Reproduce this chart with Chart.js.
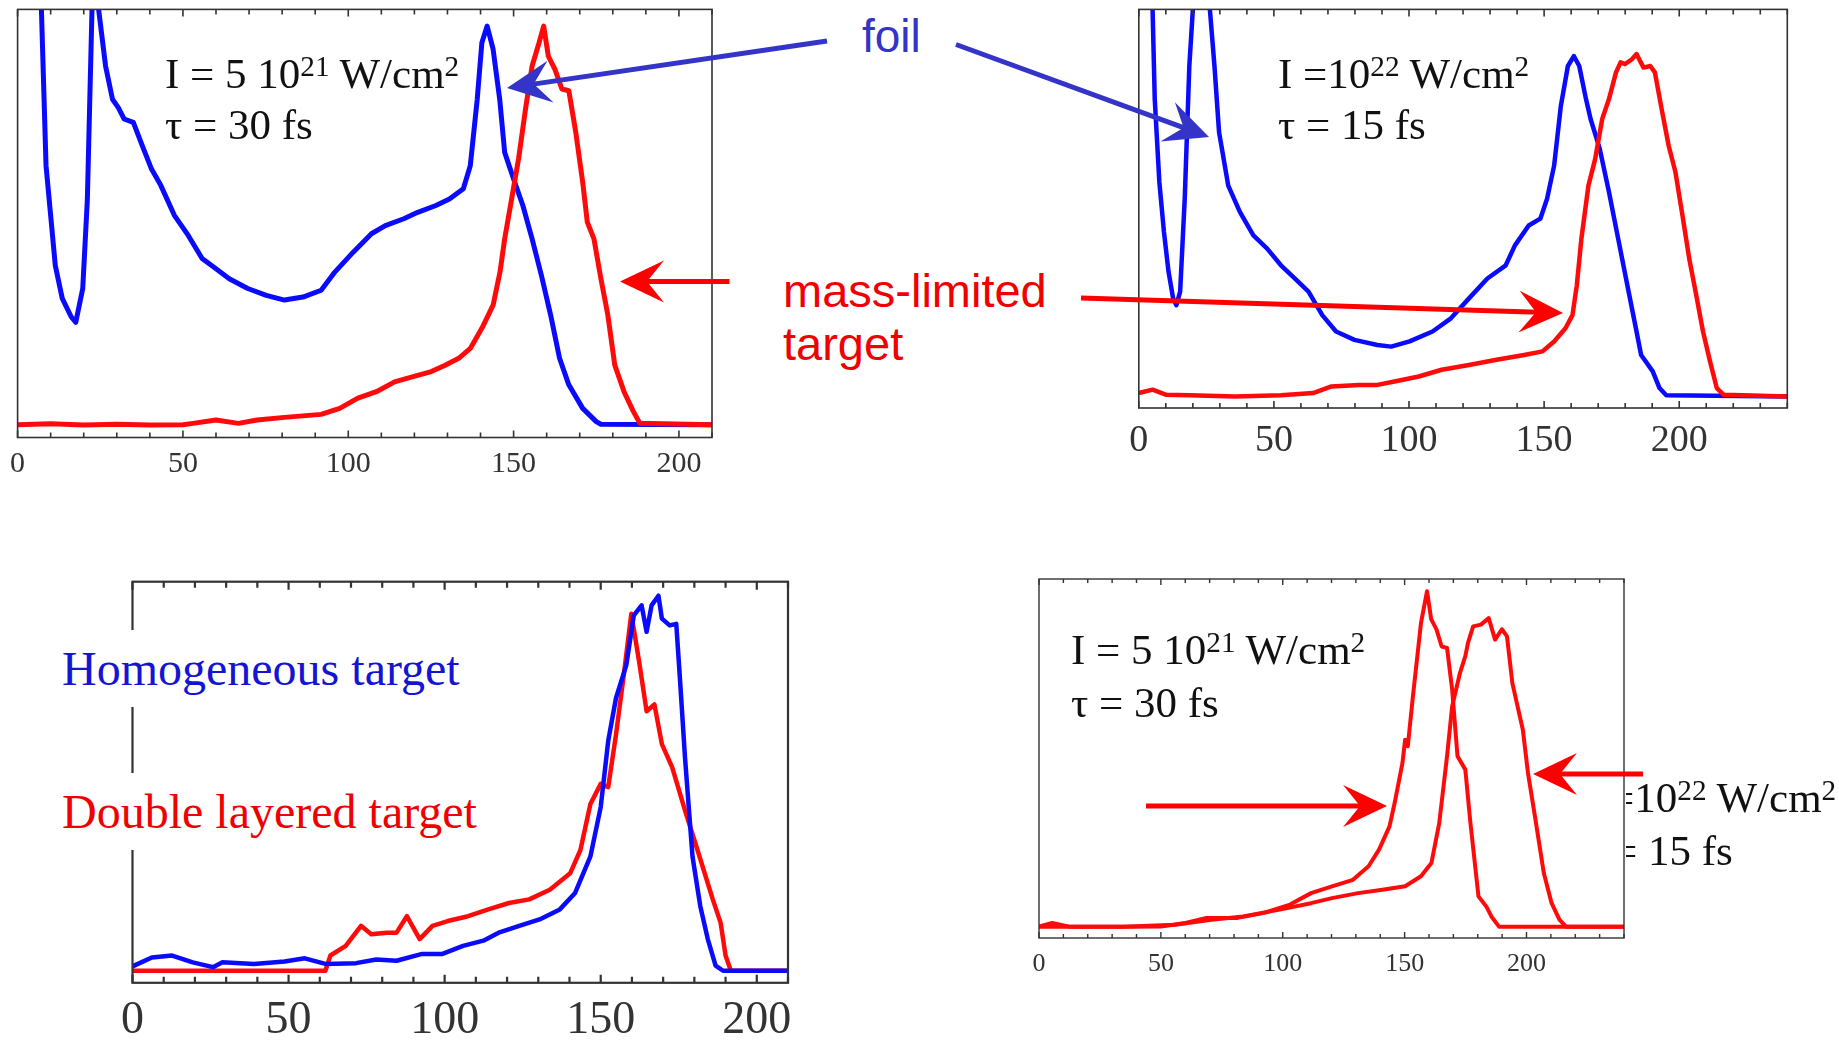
<!DOCTYPE html>
<html>
<head>
<meta charset="utf-8">
<script src="https://cdn.jsdelivr.net/npm/chart.js@4.4.1/dist/chart.umd.min.js"></script>
<style>
  body { margin: 0; width: 1839px; height: 1040px; background: #fff; position: relative; overflow: hidden; }
  canvas.panel { position: absolute; }
  #overlay { position: absolute; left: 0; top: 0; pointer-events: none; z-index: 5; }
  .t { position: absolute; font-family: "Liberation Serif", "Times New Roman", serif; white-space: nowrap; color: #111; line-height: 1; z-index: 4; }
  .t sup { font-size: 0.68em; position: relative; top: -0.42em; vertical-align: baseline; line-height: 0; }
  .sans { font-family: "Liberation Sans", Arial, sans-serif; }
  .lbl { background: #fff; line-height: 77px; height: 77px; font-size: 48px; }
  #cut { position: absolute; left: 1626px; top: 760px; width: 213px; height: 130px; overflow: hidden; z-index: 4; }
</style>
</head>
<body>
<canvas id="c1" class="panel" width="760" height="500" style="left:0;top:0"></canvas>
<canvas id="c2" class="panel" width="739" height="480" style="left:1100px;top:0"></canvas>
<canvas id="c3" class="panel" width="740" height="480" style="left:90px;top:560px"></canvas>
<canvas id="c4" class="panel" width="660" height="440" style="left:1000px;top:560px"></canvas>
<canvas id="overlay" width="1839" height="1040"></canvas>

<!-- texts -->
<div class="t" style="left:165px;top:52px;font-size:43px">I = 5 10<sup>21</sup> W/cm<sup>2</sup></div>
<div class="t" style="left:165px;top:103px;font-size:43px">τ = 30 fs</div>
<div class="t" style="left:1278px;top:52px;font-size:43px">I =10<sup>22</sup> W/cm<sup>2</sup></div>
<div class="t" style="left:1278px;top:103px;font-size:43px">τ = 15 fs</div>
<div class="t" style="left:1071px;top:628px;font-size:43px">I = 5 10<sup>21</sup> W/cm<sup>2</sup></div>
<div class="t" style="left:1071px;top:681px;font-size:43px">τ = 30 fs</div>
<div id="cut">
  <div class="t" style="left:-41px;top:16px;font-size:43px">I =10<sup>22</sup> W/cm<sup>2</sup></div>
  <div class="t" style="left:-41px;top:69px;font-size:43px">τ = 15 fs</div>
</div>
<div class="t lbl" style="left:62px;top:630px;color:#1414d4;padding-right:4px">Homogeneous target</div>
<div class="t lbl" style="left:62px;top:773px;color:#f00000;padding-right:4px">Double layered target</div>
<div class="t sans" style="left:862px;top:13px;font-size:46px;color:#3434c8">foil</div>
<div class="t sans" style="left:783px;top:267px;font-size:47px;color:#f00000">mass-limited</div>
<div class="t sans" style="left:783px;top:320px;font-size:47px;color:#f00000">target</div>

<script>
// x = distance, y = signal (arbitrary units, 0..100 of the frame height)
// top left: I = 5e21 W/cm2, 30 fs
const foil30fs = [[6,125],[7.2,100],[8.6,63.5],[11.4,40.2],[13.5,32.5],[16.2,28.2],[17.6,26.9],[19.7,34.8],[21.1,55.7],[22.5,100],[23.5,130],[24.5,100],[26.6,86.8],[28.7,79],[30.5,77],[32.2,74.4],[35,73.6],[37.7,68.2],[40.5,62.7],[43.3,58.9],[47.4,51.9],[51.6,47.2],[55.8,41.8],[60,39.4],[64,37.1],[69.6,34.8],[75.2,33.2],[80.7,32.1],[86.3,32.8],[91.8,34.4],[96,38.7],[101.5,43.3],[107,47.6],[111.2,49.5],[116.8,51.1],[121,52.6],[126.5,54.2],[130.6,55.7],[134.8,58.1],[136.9,63.5],[139,79],[140.4,92.2],[142,96.1],[143.8,90.7],[145.8,79],[147.3,66.6],[150,60.4],[152.8,54.2],[155.6,46.4],[158.4,37.9],[161.2,28.6],[163.9,18.5],[166.7,12.3],[170.9,6.8],[175,3.7],[176.4,3.1],[210,3.0]];
const mlt30fs = [[0,3.0],[10,3.2],[20,2.9],[30,3.1],[40,2.9],[50,3.0],[53,3.3],[60,4.1],[66.8,3.3],[72.4,4.1],[80.7,4.7],[91.8,5.4],[97.4,6.8],[102.9,9.2],[108.5,10.7],[114,13],[119.6,14.2],[125.1,15.4],[129.3,16.9],[133.4,18.5],[136.9,20.8],[140.4,25.5],[143.8,30.9],[145.9,38.7],[147.3,46.4],[149.4,55.7],[151.5,65.1],[153.6,76.7],[155.6,86.8],[157.7,92.2],[159.1,96.1],[160.5,89.1],[162.5,86],[164.6,81.4],[166.7,81],[168.8,71.3],[170.9,59.6],[172.3,50.3],[174.3,46.4],[176.4,37.1],[178.5,28.6],[180.6,16.9],[183.4,10.7],[186.2,6.1],[188.2,3.3],[210,3.0]];

// top right: I = 1e22 W/cm2, 15 fs
const foil15fs = [[4.2,125],[5.1,100],[5.9,77.5],[7.6,56.7],[9.3,44.2],[11,34.2],[12.7,27.5],[13.9,25.8],[15.3,29.2],[17,52.5],[18.7,85.8],[20,100],[23,140],[26.3,100],[28,85.8],[29.7,69.2],[33.1,55.8],[37.4,49.2],[42.4,43.3],[47.5,40],[52.6,35.8],[57.7,32.5],[62.8,29.2],[67.9,23.3],[73,19.2],[79.8,17.1],[88.3,15.8],[93.4,15.4],[100.2,16.7],[108.7,19.2],[115.5,22.5],[122.2,27.5],[129,32.5],[135.8,35.8],[139.2,40.8],[144.3,45.8],[148.6,47.5],[151.1,52.5],[153.7,60.8],[156.2,75.8],[158.8,85.8],[161,88.3],[163,85.8],[165.5,77.5],[167.2,72.5],[170.6,65],[174,54.2],[177.4,42.5],[180.8,30.8],[184.2,19.2],[185.9,13.3],[190.2,9.2],[192.7,5],[195.2,3.2],[240,2.9]];
const mlt15fs = [[0,3.75],[5.1,4.6],[10.2,3.3],[18.7,3.2],[35.7,2.9],[52.6,3.2],[64.5,3.75],[71.3,5.4],[81.5,5.8],[88.3,5.8],[95.1,6.7],[103.6,7.9],[112.1,9.6],[122.2,10.8],[132.4,12.1],[142.6,13.3],[149.4,14.2],[153.7,16.7],[157.9,20],[160.5,23.3],[162.1,30.8],[163.8,42.5],[166.4,55.8],[168.9,62.5],[171.5,72.5],[174,77.5],[176.6,84.2],[178.3,86.7],[180,86.3],[182.5,87.5],[184.2,88.8],[186.8,85.4],[189.3,85.8],[191,84.2],[193.5,75],[196.1,65.8],[198.6,59.2],[201.2,48.3],[203.7,37.5],[206.3,28.3],[208.8,19.2],[211.4,11.7],[213.9,5],[216.5,3.3],[240,2.9]];

// bottom left: homogeneous vs double layered target
const homogeneous = [[0,4.1],[6.2,6.3],[12.7,6.8],[19.3,5.1],[25.8,3.9],[28.8,5.1],[38.9,4.7],[48.7,5.3],[55.2,6.1],[61.8,4.7],[71.6,4.9],[78.1,5.8],[84.6,5.5],[92.8,7.2],[99.3,7.2],[105.9,9.2],[112.4,10.5],[117.3,12.5],[123.9,14.2],[130.4,15.8],[136.9,18.3],[141.8,22.4],[146.7,31.5],[150,43.8],[152.4,60.3],[154.9,71],[158.2,79.2],[160.6,91.6],[163.1,94.1],[164.7,87.5],[166.3,94.1],[168.5,96.5],[169.6,90.8],[172.1,89.1],[174.2,89.5],[175.3,76.8],[177,56.2],[179.4,31.5],[181.9,19.1],[184.3,10.9],[186.8,4.3],[189.2,3],[210,3]];
const doubleLayered = [[0,3],[30,3],[61.8,3],[63.4,6.8],[68.3,9.2],[73.2,14.2],[76.5,12.1],[81.4,12.5],[84.6,12.5],[87.9,16.6],[92,10.9],[96.1,14.2],[101,15.4],[107.5,16.6],[114,18.3],[120.6,19.9],[127.1,20.8],[133.7,23.2],[140.2,27.3],[143.5,33.1],[146.7,44.6],[150,49.6],[152.4,48.8],[154.9,61.9],[157.4,76.8],[159.8,92],[162.3,80.1],[164.7,67.7],[167.2,69.4],[169.6,59.5],[172.9,53.7],[177,43],[181,33.1],[185.9,20.8],[188.4,15],[190,6.8],[191.7,3],[210,3]];

// bottom right: both mass-limited targets
const mltLow = [[0,3.2],[5.4,4.2],[12.9,3.1],[34.3,3.1],[50,3.2],[60.1,4.2],[68.7,5.6],[81.5,5.6],[92.3,7],[103,9.3],[111.6,12.5],[120.2,14.4],[128.8,16.2],[135.2,20],[139.5,24.6],[143.8,31.1],[145.9,37.6],[149.1,48.7],[150.2,55.2],[151.3,53.4],[153.4,67.3],[156.7,87.7],[159.2,96.6],[160.9,88.8],[163.1,85.9],[165.2,81.2],[167.4,80.8],[169.5,69.2],[171.7,50.6],[174.9,46.9],[177,32],[180.3,11.6],[183.5,8.8],[185.6,6],[188.8,3.1],[240,3.1]];
const mltHigh = [[0,3.1],[34.3,3.1],[55.8,3.7],[70.8,5.1],[83.7,6],[98.7,7.9],[111.6,9.7],[120.2,11.1],[130.9,12.5],[141.6,13.5],[150.2,14.4],[156.7,17.2],[161,20.9],[164.2,32],[167.4,50.6],[169.5,64.5],[172.7,73.8],[174.9,78.5],[176,82.2],[178.1,86.8],[181.3,87.3],[184.5,89.1],[187.1,83.1],[189.9,86],[192,84],[194.2,71],[198.5,58],[200.6,46],[203.9,32],[207.1,18.1],[210.3,9.7],[213.5,5.1],[216.3,3.1],[240,3.1]];

const xTickStep = 50;
const minorStep = 10;

const BLUE = "#0a0aff";
const RED = "#ff0a0a";

// frame + inward ticks on top and bottom
const frameTicks = {
  id: "frameTicks",
  afterDraw(chart, args, opts) {
    const { ctx, chartArea: a, scales: { x } } = chart;
    ctx.save();
    ctx.strokeStyle = opts.color || "#333";
    ctx.lineWidth = opts.width || 1.5;
    ctx.strokeRect(a.left, a.top, a.right - a.left, a.bottom - a.top);
    for (let v = 0; v <= x.max; v += minorStep) {
      const px = x.getPixelForValue(v);
      const len = v % xTickStep === 0 ? opts.major : opts.minor;
      ctx.beginPath();
      ctx.moveTo(px, a.bottom); ctx.lineTo(px, a.bottom - len);
      ctx.moveTo(px, a.top); ctx.lineTo(px, a.top + len);
      ctx.stroke();
    }
    ctx.restore();
  }
};

function toPts(arr) {
  return arr.map(p => ({ x: p[0], y: p[1] }));
}

function makePanel(id, cfg) {
  const ds = cfg.series.map(s => ({
    data: toPts(s.data),
    borderColor: s.color,
    borderWidth: cfg.lineWidth,
    pointRadius: 0,
    tension: 0,
    borderJoinStyle: "round",
    clip: 0
  }));
  new Chart(document.getElementById(id), {
    type: "line",
    data: { datasets: ds },
    plugins: [frameTicks],
    options: {
      responsive: false,
      animation: false,
      devicePixelRatio: 1,
      layout: { autoPadding: false, padding: { left: cfg.pad[0], top: cfg.pad[1], right: cfg.pad[2], bottom: 0 } },
      plugins: {
        legend: { display: false },
        tooltip: { enabled: false },
        frameTicks: { color: "#333", width: cfg.frameWidth, major: cfg.tick[0], minor: cfg.tick[1] }
      },
      scales: {
        x: {
          type: "linear",
          min: 0,
          max: cfg.xMax,
          grid: { display: false, drawTicks: false },
          border: { display: false },
          ticks: {
            stepSize: xTickStep,
            includeBounds: false,
            autoSkip: false,
            maxRotation: 0,
            padding: cfg.labelPad,
            color: "#333",
            font: { family: "Liberation Serif", size: cfg.fontSize }
          },
          afterFit(scale) { scale.height = cfg.axisH; }
        },
        y: { type: "linear", min: 0, max: 100, display: false }
      }
    }
  });
}

makePanel("c1", {
  series: [{ data: mlt30fs, color: RED }, { data: foil30fs, color: BLUE }],
  xMax: 210, pad: [17.6, 9.4, 48], axisH: 62.5, labelPad: 9, fontSize: 30,
  lineWidth: 5, frameWidth: 1.6, tick: [7, 5]
});
makePanel("c2", {
  series: [{ data: mlt15fs, color: RED }, { data: foil15fs, color: BLUE }],
  xMax: 240, pad: [38.8, 9.4, 51.7], axisH: 72, labelPad: 10, fontSize: 38,
  lineWidth: 4.5, frameWidth: 1.6, tick: [7, 5]
});
makePanel("c3", {
  series: [{ data: homogeneous, color: BLUE }, { data: doubleLayered, color: RED }],
  xMax: 210, pad: [42.5, 21.7, 42], axisH: 57.2, labelPad: 11, fontSize: 46,
  lineWidth: 4.5, frameWidth: 2.2, tick: [8, 6]
});
makePanel("c4", {
  series: [{ data: mltLow, color: RED }, { data: mltHigh, color: RED }],
  xMax: 240, pad: [39, 19, 36], axisH: 62, labelPad: 11, fontSize: 26,
  lineWidth: 4, frameWidth: 1.4, tick: [6, 4]
});

// annotation arrows
const ov = document.getElementById("overlay").getContext("2d");
function arrow(x1, y1, x2, y2, color) {
  const ang = Math.atan2(y2 - y1, x2 - x1);
  const L = Math.hypot(x2 - x1, y2 - y1);
  const len = 44, half = 21, notch = 27;
  ov.save();
  ov.translate(x2, y2);
  ov.rotate(ang);
  ov.strokeStyle = color;
  ov.lineWidth = 5;
  ov.beginPath();
  ov.moveTo(-L, 0);
  ov.lineTo(-notch + 2, 0);
  ov.stroke();
  ov.fillStyle = color;
  ov.beginPath();
  ov.moveTo(0, 0);
  ov.lineTo(-len, -half);
  ov.lineTo(-notch, 0);
  ov.lineTo(-len, half);
  ov.closePath();
  ov.fill();
  ov.restore();
}
arrow(827, 41, 507, 88, "#3434c8");
arrow(956, 44.5, 1209, 137, "#3434c8");
arrow(729.5, 281.5, 620, 281.5, "#ff0000");
arrow(1081, 298, 1563, 313, "#ff0000");
arrow(1146, 806, 1387, 806, "#ff0000");
arrow(1643, 774, 1533, 774, "#ff0000");
</script>
</body>
</html>
